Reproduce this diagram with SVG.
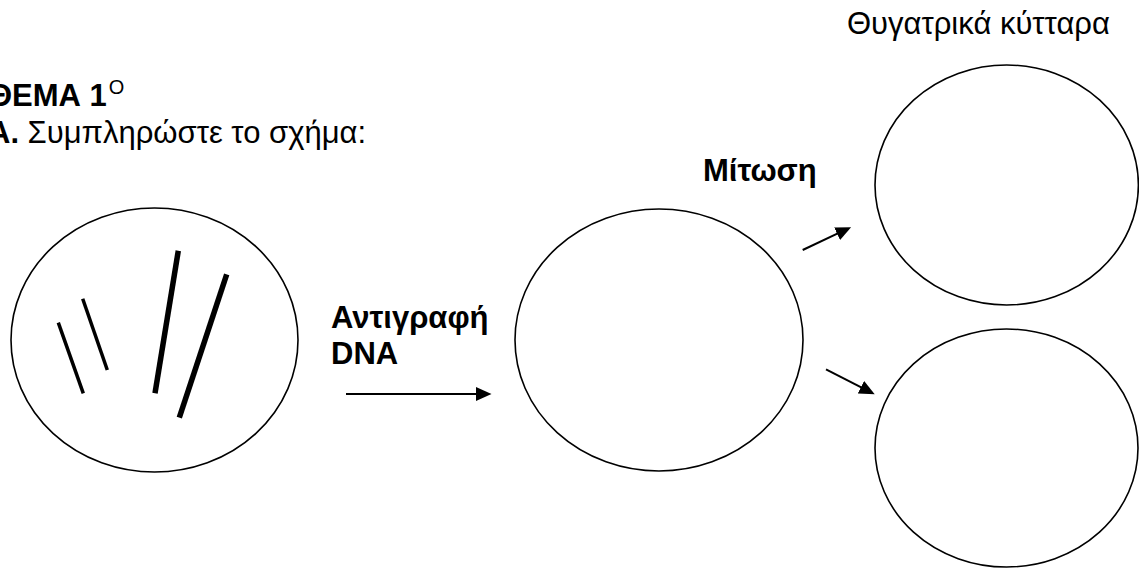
<svg xmlns="http://www.w3.org/2000/svg" width="1139" height="569" viewBox="0 0 1139 569">
<style>
  text { font-family: "Liberation Sans", Arial, sans-serif; font-size: 31px; fill: #000; }
  .b { font-weight: bold; }
  .sup { font-weight: normal; font-size: 20px; }
  .cell { fill: none; stroke: #000; stroke-width: 1.6; }
  .chr-thin { stroke: #000; stroke-width: 3.5; }
  .chr-thick { stroke: #000; stroke-width: 5.5; }
  .conn { fill: none; stroke: #000; stroke-width: 2; marker-end: url(#ah); }
</style>
<defs>
  <marker id="ah" markerUnits="userSpaceOnUse" markerWidth="17" markerHeight="15" refX="2" refY="7" orient="auto">
    <path d="M0,0 L15.5,7 L0,14 z" fill="#000"/>
  </marker>
</defs>
<rect width="1139" height="569" fill="#fff"/>
<g id="title">
  <text x="-12" y="106" class="b">ΘΕΜΑ 1<tspan class="sup" dx="2" dy="-12">Ο</tspan></text>
  <text x="-12" y="143"><tspan class="b">Α.</tspan> Συμπληρώστε το σχήμα:</text>
</g>
<g id="cell-parent">
  <ellipse class="cell" cx="154.5" cy="340" rx="143.5" ry="132"/>
  <line class="chr-thin" x1="58.3" y1="322.7" x2="83.3" y2="393.3"/>
  <line class="chr-thin" x1="82.7" y1="298.7" x2="107.3" y2="370"/>
  <line class="chr-thick" x1="178.3" y1="250.7" x2="155" y2="393.3"/>
  <line class="chr-thick" x1="226.7" y1="274.3" x2="179.3" y2="417.7"/>
</g>
<g id="label-replication">
  <text x="331" y="328" class="b">Αντιγραφή</text>
  <text x="331" y="364" class="b">DNA</text>
</g>
<g id="cell-replicated">
  <ellipse class="cell" cx="659" cy="340" rx="144" ry="131"/>
</g>
<g id="label-mitosis">
  <text x="703" y="181" class="b">Μίτωση</text>
</g>
<g id="label-daughters">
  <text x="847" y="34">Θυγατρικά κύτταρα</text>
</g>
<g id="cell-daughter-1">
  <ellipse class="cell" cx="1006.7" cy="185" rx="131.7" ry="120"/>
</g>
<g id="cell-daughter-2">
  <ellipse class="cell" cx="1006.5" cy="448" rx="131.5" ry="119"/>
</g>
<g id="connectors">
  <line class="conn" x1="346" y1="394" x2="478" y2="394"/>
  <line class="conn" x1="802.7" y1="250" x2="838.9" y2="232.9"/>
  <line class="conn" x1="826" y1="369.3" x2="862.7" y2="388.1"/>
</g>
</svg>
